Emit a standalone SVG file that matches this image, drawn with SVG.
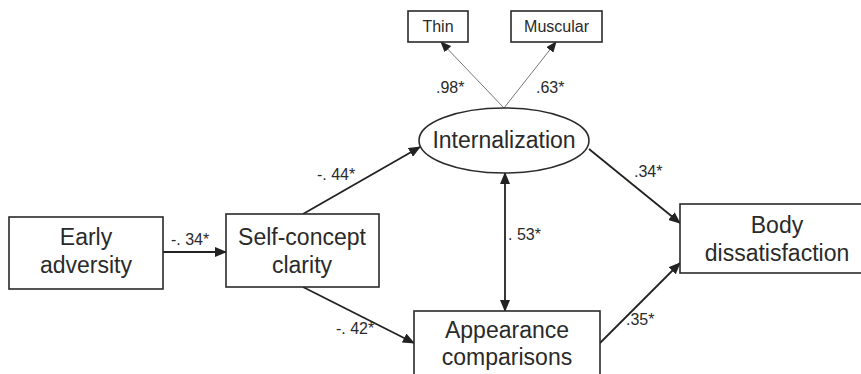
<svg xmlns="http://www.w3.org/2000/svg" width="861" height="374" viewBox="0 0 861 374">
<style>
.box{fill:#fff;stroke:#2a2a2a;stroke-width:1.6}
.t{font-family:"Liberation Sans",Arial,sans-serif;font-size:23px;fill:#2a2a2a;text-anchor:middle}
.s{font-family:"Liberation Sans",Arial,sans-serif;font-size:16px;fill:#2a2a2a}
.sm{font-family:"Liberation Sans",Arial,sans-serif;font-size:16px;fill:#2a2a2a;text-anchor:middle}
.c{stroke:#222;stroke-width:1.8;fill:none}
.g{stroke:#777;stroke-width:1;fill:none}
</style>
<defs>
<marker id="ah" markerUnits="userSpaceOnUse" markerWidth="12" markerHeight="10" refX="11" refY="5" orient="auto-start-reverse" viewBox="0 0 12 10">
<path d="M0,0 L12,5 L0,10 Z" fill="#222"/>
</marker>
<marker id="ahg" markerUnits="userSpaceOnUse" markerWidth="11" markerHeight="9" refX="10" refY="4.5" orient="auto" viewBox="0 0 11 9">
<path d="M0,0 L11,4.5 L0,9 Z" fill="#222"/>
</marker>
</defs>
<rect width="861" height="374" fill="#fff"/>
<g id="connectors">
<line class="g" x1="504" y1="108" x2="441" y2="42" marker-end="url(#ahg)"/>
<line class="g" x1="504" y1="108" x2="556" y2="42" marker-end="url(#ahg)"/>
<line class="c" x1="163" y1="252" x2="226" y2="252" marker-end="url(#ah)"/>
<line class="c" x1="303" y1="214" x2="420" y2="147" marker-end="url(#ah)"/>
<line class="c" x1="303" y1="287" x2="414" y2="343" marker-end="url(#ah)"/>
<line class="c" x1="505" y1="173" x2="505" y2="311" marker-start="url(#ah)" marker-end="url(#ah)"/>
<line class="c" x1="589" y1="149" x2="680" y2="223" marker-end="url(#ah)"/>
<line class="c" x1="600" y1="343" x2="680" y2="263" marker-end="url(#ah)"/>
<text class="s" x="436" y="93">.98*</text>
<text class="s" x="536" y="93">.63*</text>
<text class="s" x="171" y="245">-. 34*</text>
<text class="s" x="317" y="180">-. 44*</text>
<text class="s" x="336" y="334">-. 42*</text>
<text class="s" x="508" y="240">. 53*</text>
<text class="s" x="634" y="177">.34*</text>
<text class="s" x="626" y="325">.35*</text>
</g>
<g id="thin">
<rect class="box" x="408" y="11" width="60" height="31"/>
<text class="sm" x="438" y="32">Thin</text>
</g>
<g id="muscular">
<rect class="box" x="511" y="11" width="91" height="31"/>
<text class="sm" x="556.5" y="32">Muscular</text>
</g>
<g id="internalization">
<ellipse class="box" cx="504" cy="140.5" rx="85" ry="32.5"/>
<text class="t" x="504" y="148">Internalization</text>
</g>
<g id="early">
<rect class="box" x="9" y="217" width="154" height="72"/>
<text class="t" x="86" y="245">Early</text>
<text class="t" x="86" y="273">adversity</text>
</g>
<g id="selfconcept">
<rect class="box" x="226" y="214" width="153" height="73"/>
<text class="t" x="302" y="245">Self-concept</text>
<text class="t" x="302" y="273">clarity</text>
</g>
<g id="appearance">
<rect class="box" x="414" y="311" width="186" height="80"/>
<text class="t" x="507" y="338">Appearance</text>
<text class="t" x="507" y="365">comparisons</text>
</g>
<g id="body">
<rect class="box" x="680" y="204" width="194" height="69"/>
<text class="t" x="777" y="233">Body</text>
<text class="t" x="777" y="261">dissatisfaction</text>
</g>
</svg>
